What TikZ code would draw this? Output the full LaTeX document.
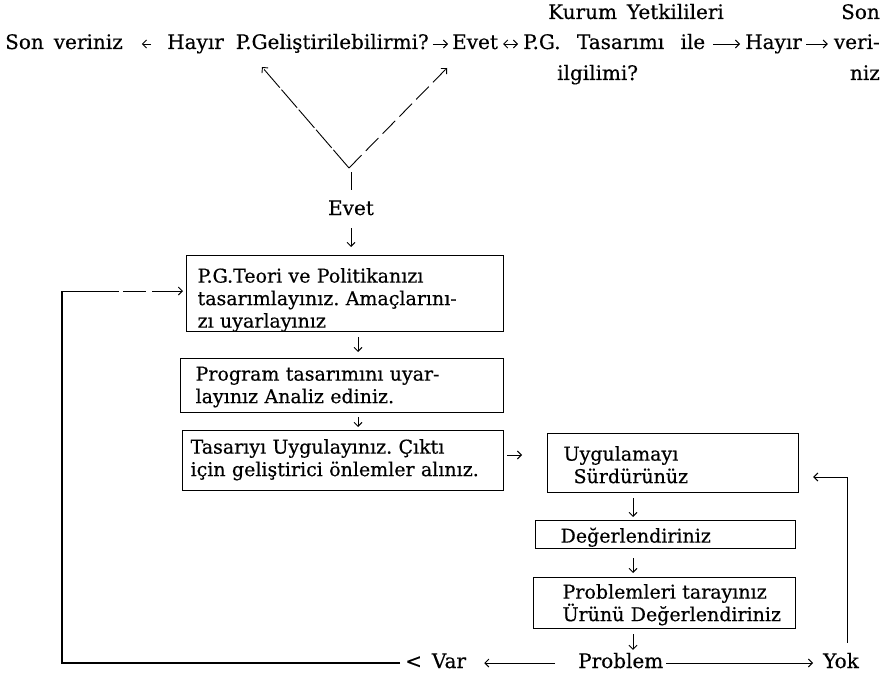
\documentclass[tikz,border=0pt]{standalone}
\usepackage{fontspec}
\setmainfont{DejaVu Serif}[FakeBold=0.4]
\usetikzlibrary{arrows.meta}
\frenchspacing
\newcommand\dfont{\fontsize{19}{22.5}\selectfont\spaceskip=.5em plus .4em minus .1em\relax}
\newcommand\tfont{\fontsize{20}{23}\selectfont\spaceskip=.5em plus .4em minus .1em\relax}
\begin{document}
\begin{tikzpicture}[x=1pt,y=-1pt,
  every node/.style={font=\dfont, inner sep=0pt},
  txt/.style={anchor=base west, text height=14pt, text depth=4pt},
  txtr/.style={anchor=base east, text height=14pt, text depth=4pt},
  top/.style={font=\tfont},
  box/.style={draw, line width=1.2pt, anchor=north west, inner ysep=0pt, align=left},
  tip/.style={-{Straight Barb[length=4pt,width=8pt]}},
  con/.style={line width=0.9pt, tip},
  vline/.style={line width=0.9pt, tip},
  loopline/.style={line width=1.3pt}]
\useasboundingbox (0,0) rectangle (892,677);
\fill[white] (0,0) rectangle (892,677);

% top rows
\node[txt, top] (kurum) at (548,19) {Kurum Yetkilileri};
\node[txtr, top] (son) at (880,19) {Son};
\node[txt, top] (sonv) at (5,49) {Son veriniz};
\node[txt, top] (q1) at (167,49) {Hayır \hspace{2pt}P.Geliştirilebilirmi?};
\node[txt, top] (evet1) at (452,49) {Evet};
\node[txt, top] (q2) at (523,49) {\makebox[182pt][s]{P.G. Tasarımı ile}};
\node[txt, top] (hayir2) at (745,49) {Hayır};
\node[txtr, top] (veri) at (880,49) {veri-};
\node[txt, top] (ilgili) at (557,80) {ilgilimi?};
\node[txtr, top] (niz) at (880,80) {niz};

\draw[con, shorten <=16pt, shorten >=19pt] (q1.west) -- (sonv.east);
\draw[con, shorten <=4pt, shorten >=4pt] (q1.east) -- (evet1.west);
\draw[line width=0.9pt, {Straight Barb[length=4pt,width=8pt]}-{Straight Barb[length=4pt,width=8pt]}, shorten <=5pt, shorten >=5pt] (evet1.east) -- (q2.west);
\draw[con, shorten <=8pt, shorten >=5pt] (q2.east) -- (hayir2.west);
\draw[con, shorten <=4pt, shorten >=6pt] (hayir2.east) -- (veri.west);

% V
\coordinate (vx) at (349,168);
\coordinate (vl) at (262,67);
\coordinate (vr) at (447,68);
\draw[vline, dash pattern=on 24pt off 2.5pt] (vx) -- (vl);
\draw[vline, dash pattern=on 18pt off 6pt] (vx) -- (vr);
\node[txt, top, anchor=base] (evet2) at (351,215) {Evet};
\draw[line width=0.9pt, shorten <=11pt, shorten >=4pt] (evet2.north) -- (evet2.north |- vx);

% left column boxes
\node[box, inner xsep=11pt, text width=295pt, text height=27pt, text depth=49pt] (b1) at (186,255)
  {\makebox[293pt][s]{P.G.Teori ve Politikanızı}\\ \makebox[286pt][s]{tasarımlayınız. Amaçlarını-}\\ zı uyarlayınız};
\node[box, inner xsep=15pt, text width=293pt, text height=22pt, text depth=32pt] (b2) at (180,358)
  {\makebox[293pt][s]{Program tasarımını uyar-}\\ layınız Analiz ediniz.};
\node[box, inner xsep=8pt, text width=305pt, text height=23pt, text depth=37pt] (b3) at (182,430)
  {Tasarıyı Uygulayınız. Çıktı\\ \makebox[305pt][s]{için geliştirici önlemler alınız.}};

% right column boxes
\node[box, inner xsep=16pt, text width=219pt, text height=27pt, text depth=32pt] (b4) at (547,433)
  {Uygulamayı\\ \hspace*{10pt}Sürdürünüz};
\node[box, inner xsep=25pt, text width=210pt, text height=22pt, text depth=6pt] (b5) at (535,520)
  {Değerlendiriniz};
\node[box, inner xsep=29pt, text width=204pt, text height=21pt, text depth=30pt] (b6) at (533,577)
  {\makebox[204pt][l]{Problemleri tarayınız}\\ \makebox[204pt][l]{Ürünü Değerlendiriniz}};

% bottom row
\node[txt, top] (var) at (405,668) {< Var};
\node[txt, top] (prob) at (578,668) {Problem};
\node[txt, top] (yok) at (823,668) {Yok};

% vertical connectors
\coordinate (ax) at (358,0);
\coordinate (ay) at (633,0);
\draw[con, shorten <=9pt, shorten >=8pt] (evet2.south) -- (evet2.south |- b1.north);
\draw[con, shorten <=5pt, shorten >=6pt] (b1.south -| ax) -- (b2.north -| ax);
\draw[con, shorten <=4pt, shorten >=3pt] (b2.south -| ax) -- (b3.north -| ax);
\draw[con, shorten <=5pt, shorten >=3pt] (b4.south -| ay) -- (b5.north -| ay);
\draw[con, shorten <=9pt, shorten >=4pt] (b5.south -| ay) -- (b6.north -| ay);
\draw[con, shorten <=5pt, shorten >=4pt] (b6.south -| ay) -- (prob.north -| ay);

% b3 -> b4
\coordinate (r3) at (0,455);
\draw[con, shorten <=3pt, shorten >=25pt] (b3.east |- r3) -- (b4.west |- r3);

% bottom arrows
\draw[con, shorten <=23pt, shorten >=18pt] (prob.west) -- (var.east);
\draw[con, shorten <=3pt, shorten >=10pt] (prob.east) -- (yok.west);

% right loop
\coordinate (rl) at (847,477);
\draw[con, line width=1pt, shorten <=11pt, shorten >=14pt] (rl |- yok.north) -- (rl) -- (b4.east |- rl);

% left loop
\coordinate (ll) at (62,291);
\draw[loopline, shorten <=5pt] (var.west) -- (ll |- var.west) -- (ll);
\draw[con, dash pattern=on 57pt off 4pt on 23pt off 6pt, shorten >=3pt] (ll) -- (b1.west |- ll);
\end{tikzpicture}
\end{document}
